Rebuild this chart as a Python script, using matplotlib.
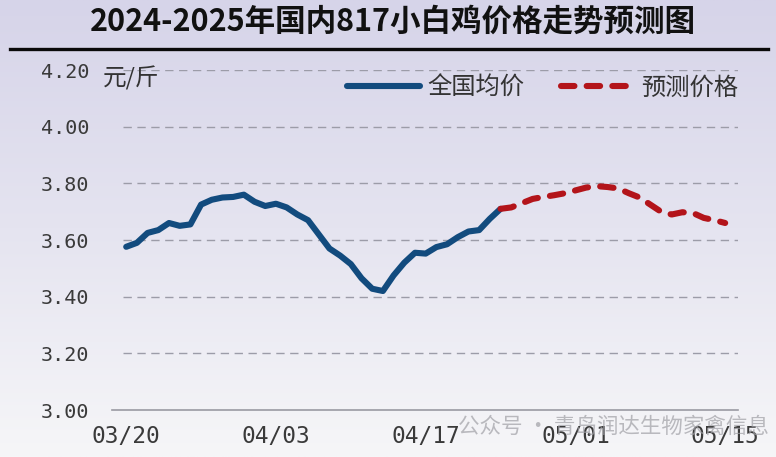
import numpy as np
import matplotlib
matplotlib.use("Agg")
import matplotlib.pyplot as plt
from matplotlib.lines import Line2D

plt.rcParams['font.family'] = ['Noto Sans CJK SC', 'DejaVu Sans']

# days counted from 03/20
actual_days = list(range(0, 36))
actual_price = [3.576, 3.59, 3.625, 3.635, 3.66, 3.65, 3.655, 3.725, 3.742, 3.75,
                3.752, 3.76, 3.735, 3.72, 3.728, 3.715, 3.69, 3.67, 3.62, 3.57,
                3.545, 3.515, 3.465, 3.428, 3.42, 3.475, 3.52, 3.555, 3.552, 3.575,
                3.585, 3.61, 3.63, 3.635, 3.675, 3.71]
forecast_days = list(range(35, 57))
forecast_price = [3.71, 3.715, 3.73, 3.745, 3.752, 3.758, 3.765, 3.775, 3.785, 3.79,
                  3.787, 3.782, 3.765, 3.75, 3.725, 3.70, 3.69, 3.698, 3.695, 3.678,
                  3.67, 3.66]
tick_days = [0, 14, 28, 42, 56]
tick_labels = ["03/20", "04/03", "04/17", "05/01", "05/15"]
y_ticks = [3.00, 3.20, 3.40, 3.60, 3.80, 4.00, 4.20]

W, H = 776, 457
fig = plt.figure(figsize=(W / 100, H / 100), dpi=100)

# background gradient
bg = fig.add_axes([0, 0, 1, 1], zorder=-5)
top = np.array([214, 212, 233]) / 255
mid = np.array([229, 228, 240]) / 255
bot = np.array([246, 246, 248]) / 255
t = np.linspace(0, 1, 200)[:, None]
grad = np.where(t < 0.5, top + (mid - top) * (t / 0.5), mid + (bot - mid) * ((t - 0.5) / 0.5))
bg.imshow(grad[:, None, :].repeat(2, axis=1), aspect='auto', extent=[0, 1, 0, 1])
bg.axis('off')

# title and rule under it
fig.text(393 / W, 1 - 22 / H, "2024-2025年国内817小白鸡价格走势预测图", ha='center', va='center',
         fontsize=22, fontweight='bold', color='#111111')
fig.add_artist(Line2D([10 / W, 768 / W], [1 - 49 / H, 1 - 49 / H], color='#0a0a0a', lw=2.4))

ax = fig.add_axes([123 / W, 47 / H, 615 / W, 340 / H])
ax.patch.set_alpha(0)
ax.set_xlim(-0.3, 57.2)
ax.set_ylim(3.0, 4.2)

for y in y_ticks[1:]:
    ax.axhline(y, color='#9c9ca8', lw=1.0, linestyle=(0, (6, 4)), zorder=1)
ax.add_line(Line2D([-11 / 615, 1], [0, 0], transform=ax.transAxes, color='#9a9aa2', lw=1.2,
                   clip_on=False, zorder=1))

ax.plot(actual_days, actual_price, color='#124b7e', lw=4.4, solid_capstyle='round',
        solid_joinstyle='round', zorder=3, label='全国均价')
ax.plot(forecast_days, forecast_price, color='#b3141a', lw=4.4, linestyle=(0, (2.2, 2.0)),
        dash_capstyle='round', zorder=3, label='预测价格')

for s in ax.spines.values():
    s.set_visible(False)
ax.set_yticks(y_ticks)
ax.set_yticklabels([f"{v:.2f}" for v in y_ticks], family='DejaVu Sans Mono', fontsize=14.5,
                   color='#3a3a3a')
ax.set_xticks(tick_days)
ax.set_xticklabels(tick_labels, family='DejaVu Sans Mono', fontsize=16.5, color='#3a3a3a')
ax.tick_params(axis='y', length=0, pad=24)
ax.tick_params(axis='x', length=0, pad=11)

ax.text(-20 / 615, 1 - 8 / 340, "元/斤", transform=ax.transAxes, ha='left', va='center',
        fontsize=17, color='#333333')

leg = ax.legend(loc='center right', bbox_to_anchor=(1.0, 1 - 18 / 340), ncol=2, frameon=False,
                fontsize=17.5, handlelength=3.0, handletextpad=0.3, columnspacing=1.5,
                borderpad=0, borderaxespad=0)
for txt in leg.get_texts():
    txt.set_color('#333333')

fig.text(458 / W, 1 - 427 / H, "公众号 · 青岛润达生物家禽信息", ha='left', va='center',
         fontsize=15.5, color='#a0a0a6', alpha=0.7)

fig.savefig("out.png", dpi=100)
